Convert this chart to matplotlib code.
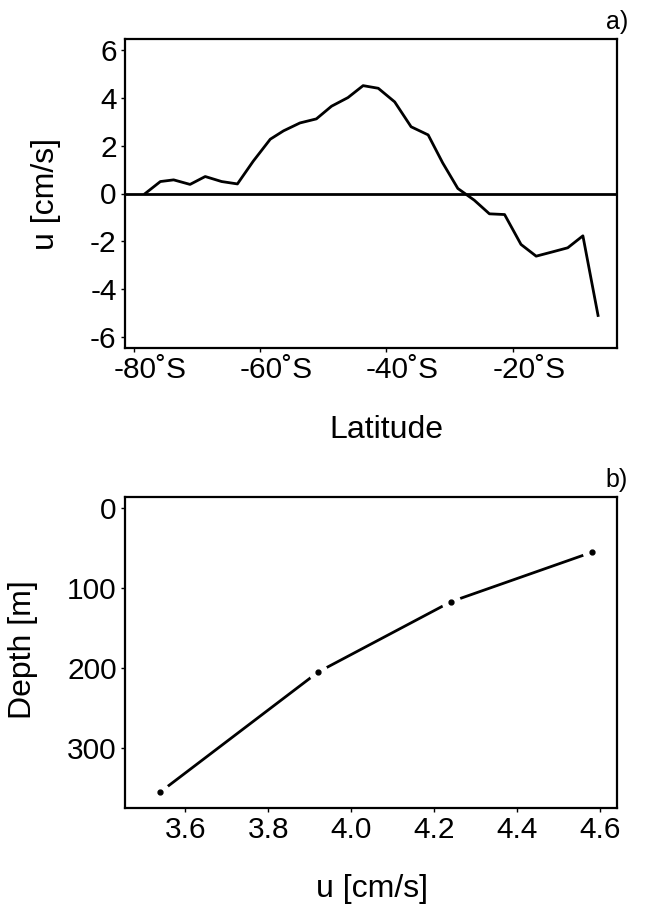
import numpy as np
import matplotlib
matplotlib.use("Agg")
import matplotlib.pyplot as plt
from matplotlib.transforms import ScaledTranslation

plt.rcParams["font.family"] = ["Liberation Sans", "DejaVu Sans"]
plt.rcParams["axes.unicode_minus"] = False

# zonal-mean surface velocity vs latitude
lat = [-78.2, -75.8, -73.7, -71.1, -68.7, -66.1, -63.6, -61.1, -58.4, -56.3,
       -53.7, -51.1, -48.7, -46.1, -43.7, -41.3, -38.7, -36.1, -33.4, -31.1,
       -28.7, -26.1, -23.7, -21.3, -18.7, -16.3, -13.7, -11.3, -8.9, -6.5]
u_lat = [0.0, 0.5, 0.57, 0.38, 0.71, 0.5, 0.4, 1.35, 2.27, 2.62,
         2.95, 3.12, 3.65, 4.01, 4.51, 4.4, 3.83, 2.79, 2.45, 1.28,
         0.21, -0.28, -0.85, -0.88, -2.13, -2.62, -2.44, -2.27, -1.77, -5.1]
lat_ticks = [-80, -60, -40, -20]
u_ticks = [-6, -4, -2, 0, 2, 4, 6]

# velocity profile vs depth
u_prof = [3.54, 3.92, 4.24, 4.58]
depth = [355, 205, 117, 55]
depth_ticks = [0, 100, 200, 300]
uprof_ticks = [3.6, 3.8, 4.0, 4.2, 4.4, 4.6]

W, H = 653, 910
fig = plt.figure(figsize=(W / 100, H / 100), dpi=100)


def frame(l, t, r, b):
    return fig.add_axes([l / W, 1 - b / H, (r - l) / W, (b - t) / H])


def style(ax):
    for s in ax.spines.values():
        s.set_linewidth(1.6)
    ax.tick_params(direction="out", length=3, width=1, labelsize=21.5, pad=3,
                   top=False, right=False)


ax1 = frame(125, 39, 617, 348)
style(ax1)
ax1.plot(lat, u_lat, color="black", lw=2)
ax1.axhline(0, color="black", lw=2)
ax1.set_xlim(-81.4, -3.5)
ax1.set_ylim(-6.46, 6.46)
ax1.set_xticks(lat_ticks)
ax1.set_xticklabels([f"{v}˚S" for v in lat_ticks])
# keep the number centred on the tick, with the "˚S" hanging to the right
shift = ScaledTranslation(0.16, 0, fig.dpi_scale_trans)
for lbl in ax1.get_xticklabels():
    lbl.set_transform(lbl.get_transform() + shift)
ax1.set_yticks(u_ticks)
ax1.set_xlabel("Latitude", fontsize=23, va="center")
ax1.set_ylabel("u [cm/s]", fontsize=23, va="center")
ax1.xaxis.set_label_coords(0.532, -0.266)
ax1.yaxis.set_label_coords(-0.16, 0.5)
ax1.text(1.022, 1.015, "a)", transform=ax1.transAxes, ha="right", va="bottom",
         fontsize=18)

ax2 = frame(125, 497, 617, 808)
style(ax2)
ax2.plot(u_prof, depth, color="black", lw=2)
# white halos break the line around each sample, then small dots on top
ax2.plot(u_prof, depth, ls="none", marker="o", ms=14, mfc="white", mec="none")
ax2.plot(u_prof, depth, ls="none", marker="o", ms=3.5, color="black")
ax2.set_xlim(3.455, 4.64)
ax2.set_ylim(375, -14)
ax2.set_xticks(uprof_ticks)
ax2.set_xticklabels([f"{v:.1f}" for v in uprof_ticks])
ax2.set_yticks(depth_ticks)
ax2.set_xlabel("u [cm/s]", fontsize=23, va="center")
ax2.set_ylabel("Depth [m]", fontsize=23, va="center")
ax2.xaxis.set_label_coords(0.503, -0.26)
ax2.yaxis.set_label_coords(-0.207, 0.51)
ax2.text(1.022, 1.015, "b)", transform=ax2.transAxes, ha="right", va="bottom",
         fontsize=18)

fig.savefig("out.png", dpi=100)
